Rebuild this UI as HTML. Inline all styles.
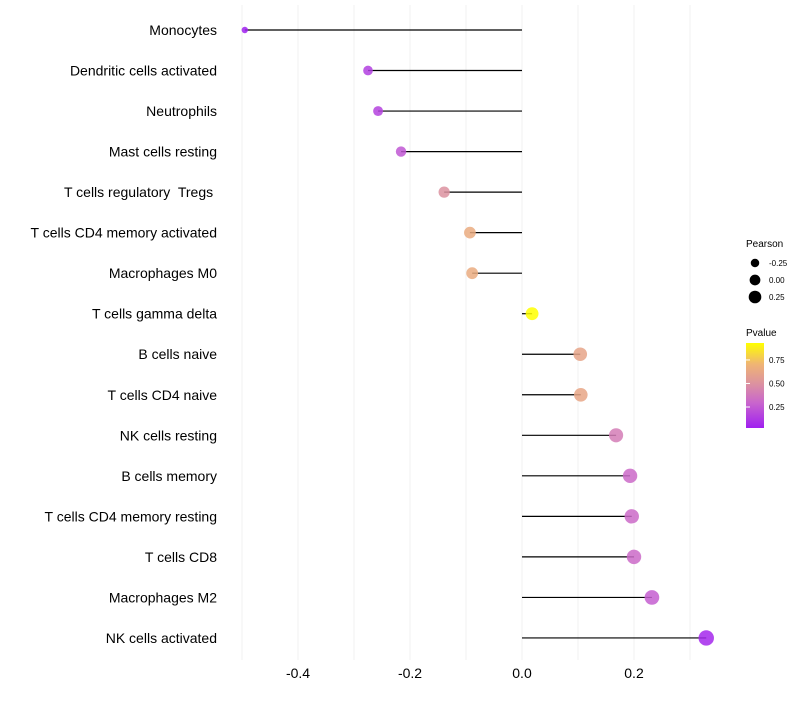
<!DOCTYPE html>
<html><head><meta charset="utf-8"><style>
body{margin:0;background:#fff;font-family:"Liberation Sans",sans-serif}
text{white-space:pre}
</style></head><body>
<svg id="chart" width="800" height="700" xmlns="http://www.w3.org/2000/svg" font-family="Liberation Sans, sans-serif">
<g id="grid"></g>
<g id="marks"></g>
<g id="ylab"></g>
<g id="xlab"></g>
<g>
<text x="746" y="247" font-size="10" fill="#000">Pearson</text>
<g id="sizeleg"></g>
</g>
<g>
<text x="746" y="336" font-size="10" fill="#000">Pvalue</text>
<defs><linearGradient id="pg" x1="0" y1="1" x2="0" y2="0">
<stop offset="0" stop-color="#a020f0"/><stop offset="0.3" stop-color="#c966cc"/><stop offset="0.52" stop-color="#dc92a0"/><stop offset="0.75" stop-color="#efb474"/><stop offset="1" stop-color="#ffff00"/>
</linearGradient></defs>
<rect x="746" y="343" width="18" height="85" fill="url(#pg)"/>
<g id="pleg"></g>
</g>
</svg>
<script>
const categories=["Monocytes","Dendritic cells activated","Neutrophils","Mast cells resting","T cells regulatory  Tregs ","T cells CD4 memory activated","Macrophages M0","T cells gamma delta","B cells naive","T cells CD4 naive","NK cells resting","B cells memory","T cells CD4 memory resting","T cells CD8","Macrophages M2","NK cells activated"];
const pearson=[-0.495,-0.275,-0.257,-0.216,-0.139,-0.093,-0.089,0.018,0.104,0.105,0.168,0.193,0.196,0.2,0.232,0.329];
const pvalue=[0.03,0.15,0.16,0.24,0.5,0.66,0.66,0.93,0.62,0.63,0.4,0.32,0.32,0.32,0.27,0.06];
const xTicks=[-0.4,-0.2,0.0,0.2];
const gridVals=[-0.5,-0.4,-0.3,-0.2,-0.1,0,0.1,0.2,0.3];
const sizeLegend=[-0.25,0,0.25];
const pLegend=[0.25,0.5,0.75];
const NS="http://www.w3.org/2000/svg";
const X=v=>522+v*560;
const Y=i=>30+i*40.53;
const R=v=>Math.sqrt(Math.max(4,40+60*v));
const stops=[[0.027,[160,32,240]],[0.3,[201,102,204]],[0.5,[220,146,160]],[0.72,[239,180,116]],[0.93,[255,255,0]]];
function col(p){if(p<=stops[0][0])return `rgb(${stops[0][1]})`;for(let i=1;i<stops.length;i++){if(p<=stops[i][0]){const t=(p-stops[i-1][0])/(stops[i][0]-stops[i-1][0]);const a=stops[i-1][1],b=stops[i][1];return `rgb(${a.map((c,k)=>Math.round(c+(b[k]-c)*t)).join(',')})`;}}return 'rgb(255,255,0)';}
const PY=p=>428-(p-0.027)*(85/(0.93-0.027));
function mk(t,a,parent){const e=document.createElementNS(NS,t);for(const k in a)e.setAttribute(k,a[k]);parent.appendChild(e);return e;}
const grid=document.getElementById('grid'),marks=document.getElementById('marks'),ylab=document.getElementById('ylab'),xlab=document.getElementById('xlab');
gridVals.forEach(v=>{const l=mk('line',{x1:X(v),x2:X(v),y1:5,y2:660,stroke:'#f2f2f2','stroke-width':1},grid);

});
xTicks.forEach(v=>{const t=mk('text',{x:X(v),y:678,'font-size':14,'text-anchor':'middle',fill:'#000'},xlab);t.textContent=v.toFixed(1);

});
categories.forEach((c,i)=>{
const t=mk('text',{x:217,y:Y(i)+5,'font-size':14,'text-anchor':'end',fill:'#000'},ylab);t.textContent=c;


const s=mk('line',{x1:X(0),x2:X(pearson[i]),y1:Y(i),y2:Y(i),stroke:'#000','stroke-width':1.2},marks);


const d=mk('circle',{cx:X(pearson[i]),cy:Y(i),r:R(pearson[i]),fill:col(pvalue[i]),'fill-opacity':0.85},marks);


});
const sl=document.getElementById('sizeleg');
sizeLegend.forEach((v,i)=>{const y=263+i*17;
const c=mk('circle',{cx:755,cy:y,r:R(v)*0.85,fill:'#000'},sl);


const t=mk('text',{x:769,y:y+3,'font-size':8,fill:'#000'},sl);t.textContent=v.toFixed(2);

});
const pl=document.getElementById('pleg');
pLegend.forEach(p=>{const y=PY(p);
const tk=mk('line',{x1:746,x2:750,y1:y,y2:y,stroke:'#fff'},pl);


const t=mk('text',{x:769,y:y+3,'font-size':8,fill:'#000'},pl);t.textContent=p.toFixed(2);

});
</script>
</body></html>
